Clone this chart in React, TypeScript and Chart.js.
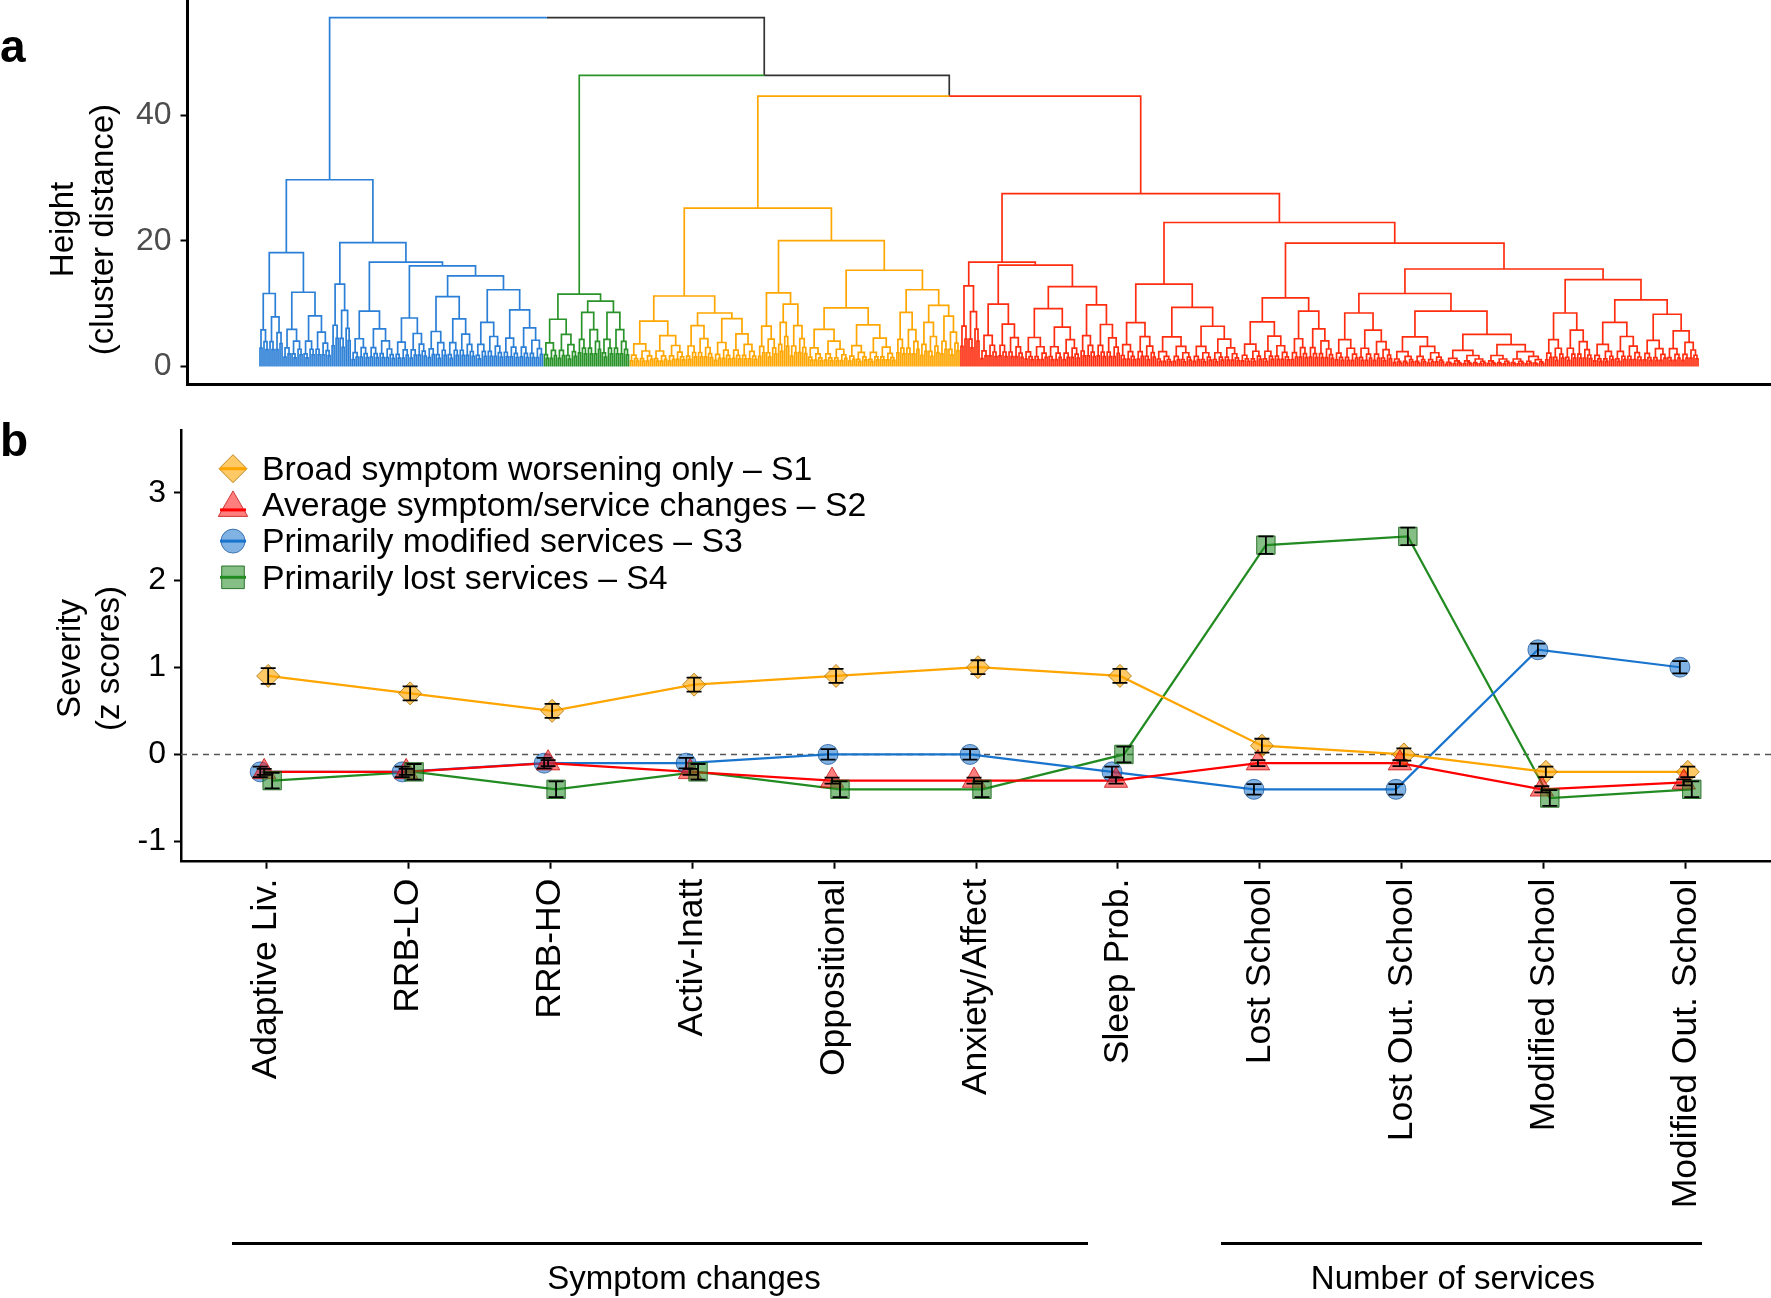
import React, { useEffect, useRef } from "react";
import { Chart, registerables } from "chart.js";

Chart.register(...registerables);

const FONT = "'Liberation Sans', Arial, Helvetica, sans-serif";

/* ---------------- Panel b data ---------------- */
const CATEGORIES = [
  "Adaptive Liv.",
  "RRB-LO",
  "RRB-HO",
  "Activ-Inatt",
  "Oppositional",
  "Anxiety/Affect",
  "Sleep Prob.",
  "Lost School",
  "Lost Out. School",
  "Modified School",
  "Modified Out. School",
];
const SERIES_NAMES = [
  "Broad symptom worsening only \u2013 S1",
  "Average symptom/service changes \u2013 S2",
  "Primarily modified services \u2013 S3",
  "Primarily lost services \u2013 S4",
];
const S1_VALUES = [0.9, 0.7, 0.5, 0.8, 0.9, 1.0, 0.9, 0.1, 0.0, -0.2, -0.2];
const S2_VALUES = [-0.2, -0.2, -0.1, -0.2, -0.3, -0.3, -0.3, -0.1, -0.1, -0.4, -0.32];
const S3_VALUES = [-0.2, -0.2, -0.1, -0.1, 0.0, 0.0, -0.2, -0.4, -0.4, 1.2, 1.0];
const S4_VALUES = [-0.3, -0.2, -0.4, -0.2, -0.4, -0.4, 0.0, 2.4, 2.5, -0.5, -0.4];
const S1_ERRORS = [0.09, 0.08, 0.08, 0.08, 0.08, 0.08, 0.08, 0.08, 0.07, 0.06, 0.06];
const S2_ERRORS = [0.035, 0.035, 0.035, 0.035, 0.035, 0.035, 0.035, 0.035, 0.035, 0.035, 0.035];
const S3_ERRORS = [0.06, 0.06, 0.06, 0.06, 0.06, 0.06, 0.06, 0.06, 0.06, 0.07, 0.07];
const S4_ERRORS = [0.09, 0.09, 0.09, 0.09, 0.09, 0.09, 0.09, 0.1, 0.1, 0.09, 0.09];
const Y_TICKS_B = [-1, 0, 1, 2, 3];
const GROUP_LABELS = ["Symptom changes", "Number of services"];

/* ---------------- Panel a data (dendrogram) ---------------- */
// node = [height, left, right]; terminal sub-cluster = [height, leafCount]
const DENDRO_Y_TICKS = [0, 20, 40];
const ROOT_HEIGHT = 55.5;
const S234_HEIGHT = 46.3;
const S34_HEIGHT = 43.0;
const BLUE_TREE: any = [29.7,
  [18.1, [11.6, 12], [11.8, 24]],
  [19.7, [13.1, 10],
    [16.6, [8.8, 22],
      [16.0, [7.7, 16],
        [14.4, [11.1, 24], [12.2, [7.0, 14], [9.0, 20]]]]]]];
const GREEN_TREE: any = [11.5, [7.5, 17], [10.4, [8.6, 12], [8.6, 14]]];
const ORANGE_TREE: any = [25.2,
  [11.2, [7.2, 28], [8.5, [6.5, 14], [7.6, 22]]],
  [20.0,
    [11.7, [6.4, 10], [9.9, [7.0, 6], [6.5, 9]]],
    [15.3, [9.3, [5.9, 20], [6.6, 24]], [12.2, [8.6, 12], [9.7, [7.0, 10], [8.0, 10]]]]]];
const RED_TREE: any = [27.5,
  [16.6, [12.8, 10], [16.1, [9.9, 22], [12.7, [9.2, 28], [9.8, 20]]]],
  [22.9,
    [13.1, [6.95, 18], [9.4, 42]],
    [19.6,
      [10.9, [7.1, 25], [8.8, 22]],
      [15.5,
        [11.6, [8.5, 29], [8.8, [4.7, 26], [5.1, 50]]],
        [13.8, [8.5, 24], [10.6, [7.0, 25], [8.3, 28]]]]]]];

/* ---------------- styles ---------------- */
const SERIES_STYLE = [
  { line: "#FFA500", fill: "rgba(255,165,0,0.6)", border: "rgba(170,110,0,0.8)", shape: "rectRot", r: 11.5, lr: 14, offset: 0.014, order: 4 },
  { line: "#FF0000", fill: "rgba(255,20,20,0.55)", border: "rgba(190,0,0,0.7)", shape: "triangle", r: 13.5, lr: 17, offset: -0.014, order: 2 },
  { line: "#1874CD", fill: "rgba(24,116,205,0.55)", border: "rgba(20,80,150,0.7)", shape: "circle", r: 10, lr: 12, offset: -0.042, order: 3 },
  { line: "#228B22", fill: "rgba(34,139,34,0.55)", border: "rgba(10,90,10,0.8)", shape: "rect", r: 13, lr: 16, offset: 0.042, order: 1 },
];
const DENDRO_COLORS = { blue: "#2B7FD6", green: "#2A942A", orange: "#FFA600", red: "#FF2D0F", black: "#333333" };

const SERIES = [
  { values: S1_VALUES, errors: S1_ERRORS },
  { values: S2_VALUES, errors: S2_ERRORS },
  { values: S3_VALUES, errors: S3_ERRORS },
  { values: S4_VALUES, errors: S4_ERRORS },
];

type Pt = { x: number; y: number | null };

function buildDendrogram() {
  const segs: Record<string, Pt[]> = {};
  let next = 0;
  const addEdge = (color: string, px: number, ph: number, cx: number, ch: number) => {
    (segs[color] = segs[color] || []).push(
      { x: px, y: ph },
      { x: cx, y: ph },
      { x: cx, y: ch },
      { x: cx, y: null }
    );
  };
  const terminal = (h: number, n: number, color: string): { x: number; h: number } => {
    if (n <= 1) return { x: next++, h: 0 };
    const nl = Math.max(1, Math.round(n * 0.42));
    const l = terminal(h * 0.5, nl, color);
    const r = terminal(h * 0.68, n - nl, color);
    const x = (l.x + r.x) / 2;
    addEdge(color, x, h, l.x, l.h);
    addEdge(color, x, h, r.x, r.h);
    return { x, h };
  };
  const tree = (t: any, color: string): { x: number; h: number } => {
    if (t.length === 2) return terminal(t[0], t[1], color);
    const l = tree(t[1], color);
    const r = tree(t[2], color);
    const x = (l.x + r.x) / 2;
    addEdge(color, x, t[0], l.x, l.h);
    addEdge(color, x, t[0], r.x, r.h);
    return { x, h: t[0] };
  };
  const C = DENDRO_COLORS;
  const blue = tree(BLUE_TREE, C.blue);
  const green = tree(GREEN_TREE, C.green);
  const orange = tree(ORANGE_TREE, C.orange);
  const red = tree(RED_TREE, C.red);
  const n2x = (orange.x + red.x) / 2;
  addEdge(C.orange, n2x, S34_HEIGHT, orange.x, orange.h);
  addEdge(C.red, n2x, S34_HEIGHT, red.x, red.h);
  const n1x = (green.x + n2x) / 2;
  addEdge(C.green, n1x, S234_HEIGHT, green.x, green.h);
  addEdge(C.black, n1x, S234_HEIGHT, n2x, S34_HEIGHT);
  const rx = (blue.x + n1x) / 2;
  addEdge(C.blue, rx, ROOT_HEIGHT, blue.x, blue.h);
  addEdge(C.black, rx, ROOT_HEIGHT, n1x, S234_HEIGHT);
  return { segs, leafCount: next };
}

function drawShape(ctx: CanvasRenderingContext2D, shape: string, x: number, y: number, r: number) {
  ctx.beginPath();
  if (shape === "rectRot") {
    ctx.moveTo(x - r, y); ctx.lineTo(x, y - r); ctx.lineTo(x + r, y); ctx.lineTo(x, y + r);
    ctx.closePath();
  } else if (shape === "triangle") {
    for (let k = 0; k < 3; k++) {
      const a = (k * 2 * Math.PI) / 3;
      const px = x + Math.sin(a) * r;
      const py = y - Math.cos(a) * r;
      if (k === 0) ctx.moveTo(px, py); else ctx.lineTo(px, py);
    }
    ctx.closePath();
  } else if (shape === "circle") {
    ctx.arc(x, y, r, 0, Math.PI * 2);
  } else {
    const s = r * Math.SQRT1_2;
    ctx.rect(x - s, y - s, 2 * s, 2 * s);
  }
}

function RotText(props: { text: string; cx: number; cy: number; size: number; color?: string }) {
  const W = 600;
  return (
    <div
      style={{
        position: "absolute",
        left: props.cx - W / 2,
        top: props.cy - props.size / 2,
        width: W,
        height: props.size,
        lineHeight: `${props.size}px`,
        fontSize: props.size,
        fontFamily: FONT,
        color: props.color || "#000",
        textAlign: "center",
        whiteSpace: "nowrap",
        transform: "rotate(-90deg)",
        transformOrigin: "50% 50%",
      }}
    >
      {props.text}
    </div>
  );
}

function Text(props: { text: string; cx: number; cy: number; size: number; bold?: boolean; left?: number }) {
  const W = 800;
  const style: any = {
    position: "absolute",
    top: props.cy - props.size / 2,
    height: props.size,
    lineHeight: `${props.size}px`,
    fontSize: props.size,
    fontFamily: FONT,
    fontWeight: props.bold ? "bold" : "normal",
    color: "#000",
    whiteSpace: "nowrap",
  };
  if (props.left !== undefined) {
    style.left = props.left;
  } else {
    style.left = props.cx - W / 2;
    style.width = W;
    style.textAlign = "center";
  }
  return <div style={style}>{props.text}</div>;
}

export default function App() {
  const refA = useRef<HTMLCanvasElement>(null);
  const refB = useRef<HTMLCanvasElement>(null);

  useEffect(() => {
    /* ---------- Panel a ---------- */
    const { segs, leafCount } = buildDendrogram();
    const unit = (1698 - 260) / (leafCount - 1);
    const xMinA = -(260 - 187.5) / unit;
    const xMaxA = leafCount - 1 + (1771 - 1698) / unit;
    const chartA = new Chart(refA.current!, {
      type: "line",
      data: {
        datasets: Object.keys(segs).map((c) => ({
          data: segs[c] as any,
          borderColor: c,
          borderWidth: 1.7,
          pointRadius: 0,
          spanGaps: false,
          tension: 0,
          fill: false,
        })),
      },
      options: {
        animation: false,
        responsive: false,
        devicePixelRatio: 1,
        events: [],
        layout: { padding: 0, autoPadding: false },
        plugins: { legend: { display: false }, tooltip: { enabled: false } },
        scales: {
          x: {
            type: "linear",
            min: xMinA,
            max: xMaxA,
            afterFit: (s: any) => { s.height = 16; s.paddingLeft = 0; s.paddingRight = 0; },
            ticks: { display: false },
            grid: { display: false },
            border: { display: true, color: "#000", width: 3 },
          },
          y: {
            type: "linear",
            min: -2.8,
            max: 58.3,
            afterBuildTicks: (s: any) => { s.ticks = DENDRO_Y_TICKS.map((v) => ({ value: v })); },
            afterFit: (s: any) => { s.width = 187.5; s.paddingTop = 0; s.paddingBottom = 0; },
            ticks: { color: "#4D4D4D", font: { family: FONT, size: 32 }, padding: 9 },
            grid: { drawOnChartArea: false, drawTicks: true, tickLength: 7, tickWidth: 2, tickColor: "#000" },
            border: { display: true, color: "#000", width: 3 },
          },
        },
      } as any,
    });

    /* ---------- Panel b ---------- */
    const pts = (k: number) => SERIES[k].values.map((v, i) => ({ x: i + SERIES_STYLE[k].offset, y: v }));
    const lineSets = SERIES.map((_, k) => ({
      data: pts(k),
      borderColor: SERIES_STYLE[k].line,
      borderWidth: 2.2,
      pointRadius: 0,
      tension: 0,
      order: 10,
    }));
    const markerSets = SERIES.map((_, k) => ({
      data: pts(k),
      showLine: false,
      pointStyle: SERIES_STYLE[k].shape,
      pointRadius: SERIES_STYLE[k].r,
      pointBackgroundColor: SERIES_STYLE[k].fill,
      pointBorderColor: SERIES_STYLE[k].border,
      pointBorderWidth: 1,
      order: SERIES_STYLE[k].order,
    }));
    const zeroLine = {
      data: [{ x: -0.6, y: 0 }, { x: CATEGORIES.length - 0.4, y: 0 }],
      borderColor: "#555",
      borderWidth: 1.5,
      borderDash: [6, 5],
      pointRadius: 0,
      order: 20,
    };

    const errorBars = {
      id: "errorBars",
      afterDatasetsDraw(chart: any) {
        const { ctx } = chart;
        const xs = chart.scales.x;
        const ys = chart.scales.y;
        ctx.save();
        ctx.strokeStyle = "#000";
        ctx.lineWidth = 1.8;
        SERIES.forEach((s, k) => {
          s.values.forEach((v, i) => {
            const px = xs.getPixelForValue(i + SERIES_STYLE[k].offset);
            const t = ys.getPixelForValue(v + s.errors[i]);
            const b = ys.getPixelForValue(v - s.errors[i]);
            ctx.beginPath();
            ctx.moveTo(px, t); ctx.lineTo(px, b);
            ctx.moveTo(px - 7.5, t); ctx.lineTo(px + 7.5, t);
            ctx.moveTo(px - 7.5, b); ctx.lineTo(px + 7.5, b);
            ctx.stroke();
          });
        });
        ctx.restore();
      },
    };

    const legendPlugin = {
      id: "customLegend",
      afterDraw(chart: any) {
        const { ctx } = chart;
        ctx.save();
        SERIES_NAMES.forEach((name, k) => {
          const st = SERIES_STYLE[k];
          const y = 68.7 + k * 36.2;
          const x = 233;
          drawShape(ctx, st.shape, x, st.shape === "triangle" ? y + 3 : y, st.lr);
          ctx.fillStyle = st.fill;
          ctx.fill();
          ctx.strokeStyle = st.border;
          ctx.lineWidth = 1;
          ctx.stroke();
          ctx.beginPath();
          ctx.moveTo(x - 13, y + (st.shape === "triangle" ? 5 : 0));
          ctx.lineTo(x + 13, y + (st.shape === "triangle" ? 5 : 0));
          ctx.strokeStyle = st.line;
          ctx.lineWidth = 3;
          ctx.stroke();
          ctx.fillStyle = "#000";
          ctx.font = `33.8px ${FONT}`;
          ctx.textBaseline = "middle";
          ctx.textAlign = "left";
          ctx.fillText(name, 262, y + 2);
        });
        ctx.restore();
      },
    };

    const chartB = new Chart(refB.current!, {
      type: "line",
      data: { datasets: [zeroLine, ...lineSets, ...markerSets] as any },
      options: {
        animation: false,
        responsive: false,
        devicePixelRatio: 1,
        events: [],
        layout: { padding: { top: 30, left: 0, right: 0, bottom: 0 }, autoPadding: false },
        plugins: { legend: { display: false }, tooltip: { enabled: false } },
        scales: {
          x: {
            type: "linear",
            min: -0.6,
            max: CATEGORIES.length - 0.4,
            afterBuildTicks: (s: any) => { s.ticks = CATEGORIES.map((_, i) => ({ value: i })); },
            afterFit: (s: any) => { s.height = 436.3; s.paddingLeft = 0; s.paddingRight = 0; },
            ticks: {
              autoSkip: false,
              minRotation: 90,
              maxRotation: 90,
              padding: 10,
              color: "#000",
              font: { family: FONT, size: 35.5 },
              callback: (v: any) => CATEGORIES[Math.round(v)],
            },
            grid: { drawOnChartArea: false, drawTicks: true, tickLength: 7, tickWidth: 2, tickColor: "#000" },
            border: { display: true, color: "#000", width: 2.5 },
          },
          y: {
            type: "linear",
            min: -1.23,
            max: 3.72,
            afterBuildTicks: (s: any) => { s.ticks = Y_TICKS_B.map((v) => ({ value: v })); },
            afterFit: (s: any) => { s.width = 181; s.paddingTop = 0; s.paddingBottom = 0; },
            ticks: { color: "#000", font: { family: FONT, size: 32 }, padding: 8, callback: (v: any) => String(v) },
            grid: { drawOnChartArea: false, drawTicks: true, tickLength: 7, tickWidth: 2, tickColor: "#000" },
            border: { display: true, color: "#000", width: 2.5 },
          },
        },
      } as any,
      plugins: [errorBars, legendPlugin],
    });

    return () => {
      chartA.destroy();
      chartB.destroy();
    };
  }, []);

  return (
    <div style={{ position: "absolute", left: 0, top: 0, width: 1771, height: 1298, background: "#fff", overflow: "hidden" }}>
      <canvas ref={refA} width={1771} height={400} style={{ position: "absolute", left: 0, top: 0, width: 1771, height: 400 }} />
      <canvas ref={refB} width={1771} height={898} style={{ position: "absolute", left: 0, top: 400, width: 1771, height: 898 }} />
      <Text text="a" cx={0} cy={46} size={46} bold left={0} />
      <Text text="b" cx={0} cy={440} size={46} bold left={0} />
      <RotText text="Height" cx={61} cy={229} size={33} />
      <RotText text="(cluster distance)" cx={101} cy={229} size={33} />
      <RotText text="Severity" cx={68} cy={658} size={33} />
      <RotText text="(z scores)" cx={107} cy={658} size={33} />
      <div style={{ position: "absolute", left: 232, top: 1241.5, width: 856, height: 3, background: "#000" }} />
      <div style={{ position: "absolute", left: 1221, top: 1241.5, width: 481, height: 3, background: "#000" }} />
      <Text text={GROUP_LABELS[0]} cx={684} cy={1277} size={33} />
      <Text text={GROUP_LABELS[1]} cx={1453} cy={1277} size={33} />
    </div>
  );
}
